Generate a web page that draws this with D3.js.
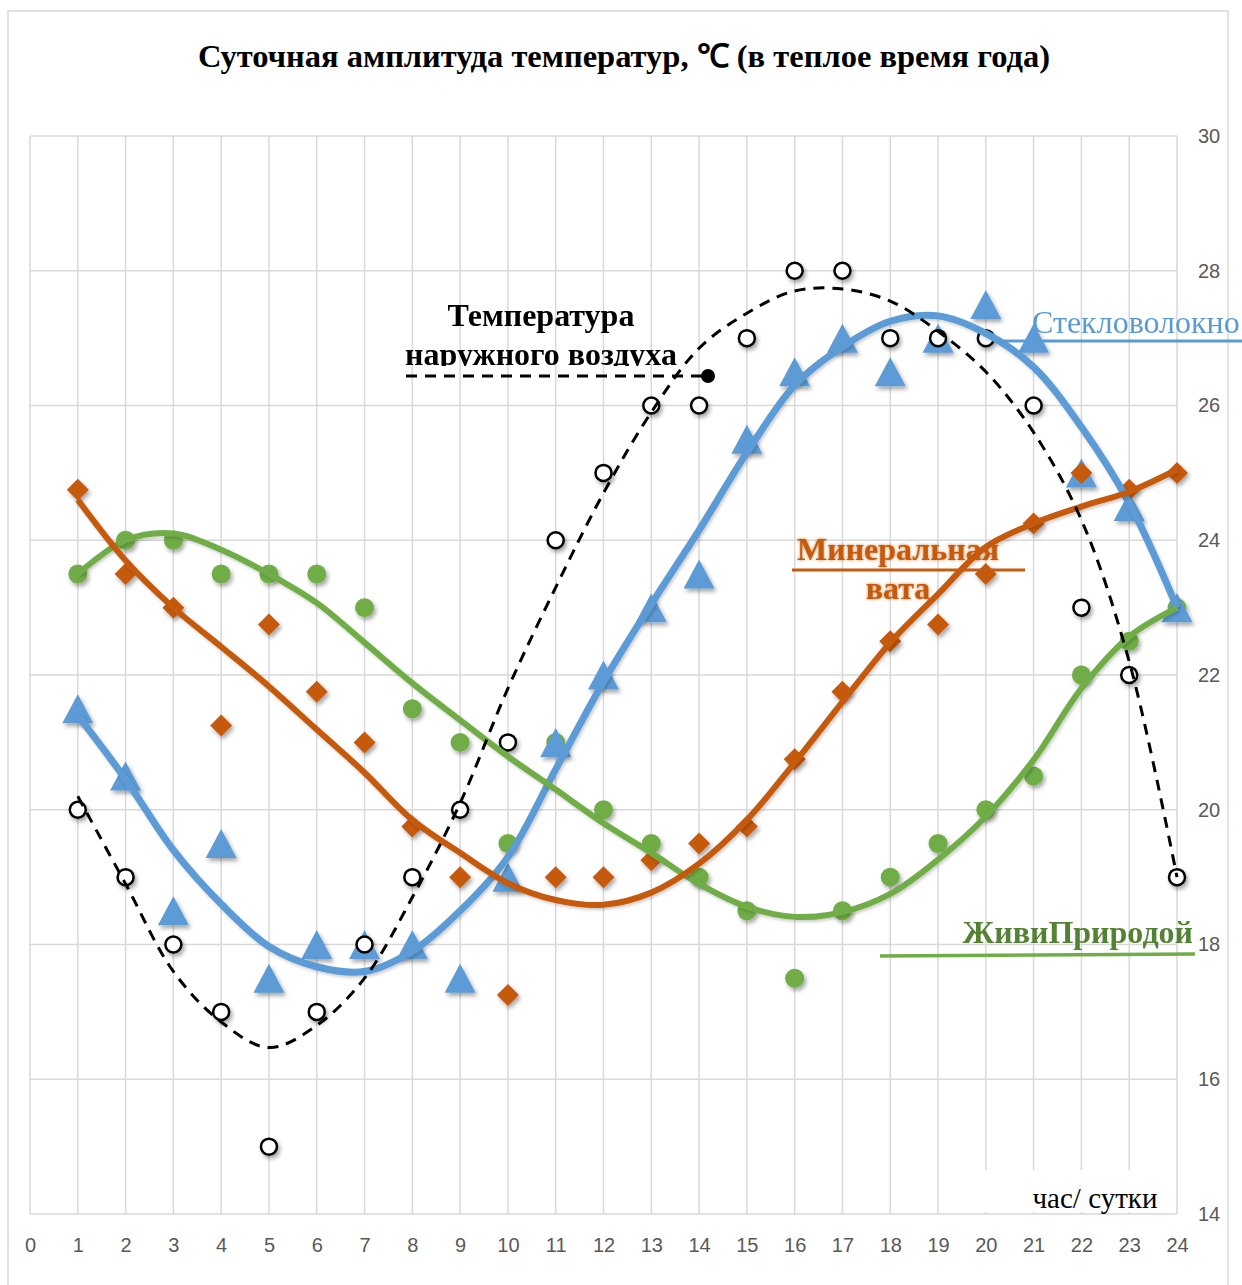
<!DOCTYPE html>
<html>
<head>
<meta charset="utf-8">
<script src="https://cdn.jsdelivr.net/npm/d3@7"></script>
<style>
  body { margin: 0; background: #fff; }
  svg { display: block; }
</style>
</head>
<body>
<svg id="chart"></svg>
<script>
// hours of the day
var hours = [1, 2, 3, 4, 5, 6, 7, 8, 9, 10, 11, 12, 13, 14, 15, 16, 17, 18, 19, 20, 21, 22, 23, 24]
var xTicks = [0, 1, 2, 3, 4, 5, 6, 7, 8, 9, 10, 11, 12, 13, 14, 15, 16, 17, 18, 19, 20, 21, 22, 23, 24]
var yTicks = [14, 16, 18, 20, 22, 24, 26, 28, 30]

// measured points
var outsideTemp = [20, 19, 18, 17, 15, 17, 18, 19, 20, 21, 24, 25, 26, 26, 27, 28, 28, 27, 27, 27, 26, 23, 22, 19]
var fiberglass = [21.5, 20.5, 18.5, 19.5, 17.5, 18, 18, 18, 17.5, 19, 21, 22, 23, 23.5, 25.5, 26.5, 27, 26.5, 27, 27.5, 27, 25, 24.5, 23]
var mineralWool = [24.75, 23.5, 23, 21.25, 22.75, 21.75, 21, 19.75, 19, 17.25, 19, 19, 19.25, 19.5, 19.75, 20.75, 21.75, 22.5, 22.75, 23.5, 24.25, 25, 24.75, 25]
var zhivi = [23.5, 24, 24, 23.5, 23.5, 23.5, 23, 21.5, 21, 19.5, 21, 20, 19.5, 19, 18.5, 17.5, 18.5, 19, 19.5, 20, 20.5, 22, 22.5, 23]

// trend lines
var outsideTrend = [20.2, 18.9, 17.6, 16.85, 16.47, 16.8, 17.5, 18.7, 20.1, 21.8, 23.3, 24.7, 25.9, 26.85, 27.37, 27.7, 27.73, 27.55, 27.1, 26.5, 25.6, 24.3, 22.2, 19.0]
var fiberTrend = [21.4, 20.45, 19.4, 18.6, 17.97, 17.67, 17.6, 17.9, 18.5, 19.3, 20.6, 21.9, 23.05, 24.15, 25.3, 26.3, 26.87, 27.25, 27.33, 27.07, 26.57, 25.68, 24.55, 23.0]
var mineralTrend = [24.6, 23.7, 23.0, 22.42, 21.83, 21.19, 20.55, 19.85, 19.36, 18.91, 18.66, 18.59, 18.77, 19.2, 19.85, 20.7, 21.6, 22.48, 23.2, 23.9, 24.25, 24.5, 24.72, 25.05]
var zhiviTrend = [23.5, 24.0, 24.1, 23.86, 23.5, 23.07, 22.48, 21.88, 21.33, 20.79, 20.3, 19.8, 19.36, 18.9, 18.56, 18.41, 18.48, 18.75, 19.26, 19.9, 20.74, 21.8, 22.57, 23.0]

var dimensions = {
    width: 1242,
    height: 1285,
    margin: { top: 136, bottom: 71, left: 30, right: 65 }
}

var blue = "#5B9BD5", orange = "#C55A11", green = "#70AD47"
var serif = "'Liberation Serif', 'Times New Roman', serif"

var svg = d3.select("#chart")
    .attr("width", dimensions.width)
    .attr("height", dimensions.height)

var defs = svg.append("defs")
var sh = defs.append("filter").attr("id", "shadow")
    .attr("x", "-50%").attr("y", "-50%").attr("width", "200%").attr("height", "200%")
sh.append("feDropShadow").attr("dx", 2).attr("dy", 3).attr("stdDeviation", 2)
    .attr("flood-color", "#000").attr("flood-opacity", 0.35)
var shl = defs.append("filter").attr("id", "lineShadow")
    .attr("x", "-10%").attr("y", "-10%").attr("width", "120%").attr("height", "120%")
shl.append("feDropShadow").attr("dx", 1.5).attr("dy", 2).attr("stdDeviation", 1.5)
    .attr("flood-color", "#000").attr("flood-opacity", 0.2)
var glow = defs.append("filter").attr("id", "glow")
    .attr("x", "-10%").attr("y", "-30%").attr("width", "120%").attr("height", "160%")
glow.append("feDropShadow").attr("dx", 0).attr("dy", 0).attr("stdDeviation", 1.5)
    .attr("flood-color", orange).attr("flood-opacity", 0.8)
defs.append("clipPath").attr("id", "cutText")
    .append("rect").attr("x", 380).attr("y", 280).attr("width", 360).attr("height", 86)

// outer frame
svg.append("rect")
    .attr("x", 8).attr("y", 11)
    .attr("width", 1220).attr("height", 1300)
    .attr("fill", "none").attr("stroke", "#d9d9d9").attr("stroke-width", 1.5)

var xScale = d3.scaleLinear()
    .domain([0, 24])
    .range([dimensions.margin.left, dimensions.width - dimensions.margin.right])

var yScale = d3.scaleLinear()
    .domain([14, 30])
    .range([dimensions.height - dimensions.margin.bottom, dimensions.margin.top])

// grid
var grid = svg.append("g").attr("stroke", "#d9d9d9").attr("stroke-width", 1.5)
grid.selectAll(".vg").data(xTicks).enter().append("line")
    .attr("x1", d => xScale(d)).attr("x2", d => xScale(d))
    .attr("y1", yScale(30)).attr("y2", yScale(14))
grid.selectAll(".hg").data(yTicks).enter().append("line")
    .attr("x1", xScale(0)).attr("x2", xScale(24))
    .attr("y1", d => yScale(d)).attr("y2", d => yScale(d))

// axes
var xAxis = svg.append("g")
    .attr("transform", "translate(0," + yScale(14) + ")")
    .call(d3.axisBottom(xScale).tickValues(xTicks).tickSize(0).tickPadding(24).tickFormat(d3.format("d")))
xAxis.select(".domain").remove()
xAxis.selectAll("text")
    .attr("fill", "#595959")
    .style("font-family", "'Liberation Sans', Arial, sans-serif")
    .style("font-size", "20px")

var yAxis = svg.append("g")
    .attr("transform", "translate(" + xScale(24) + ",0)")
    .call(d3.axisRight(yScale).tickValues(yTicks).tickSize(0).tickPadding(21))
yAxis.select(".domain").remove()
yAxis.selectAll("text")
    .attr("fill", "#595959")
    .style("font-family", "'Liberation Sans', Arial, sans-serif")
    .style("font-size", "20px")

// title
svg.append("text")
    .attr("x", 624).attr("y", 67)
    .attr("text-anchor", "middle")
    .style("font-family", serif)
    .style("font-weight", "bold")
    .style("font-size", "32.5px")
    .text("Суточная амплитуда температур, ℃ (в теплое время года)")

// axis caption with white box
svg.append("rect")
    .attr("x", 985).attr("y", 1170).attr("width", 187).attr("height", 42)
    .attr("fill", "#fff")
svg.append("text")
    .attr("x", 1095).attr("y", 1208)
    .attr("text-anchor", "middle")
    .style("font-family", serif)
    .style("font-size", "29px")
    .text("час/ сутки")

// markers
function triangle(w, h) {
    return "M0," + (-h / 2) + "L" + (w / 2) + "," + (h / 2) + "L" + (-w / 2) + "," + (h / 2) + "Z"
}
function diamond(s) {
    return "M0," + (-s / 2) + "L" + (s / 2) + ",0L0," + (s / 2) + "L" + (-s / 2) + ",0Z"
}

var marks = svg.append("g").attr("filter", "url(#shadow)")

marks.selectAll(".green").data(hours).enter().append("circle")
    .attr("cx", (d, i) => xScale(d))
    .attr("cy", (d, i) => yScale(zhivi[i]))
    .attr("r", 9.5)
    .attr("fill", green)

marks.selectAll(".blue").data(hours).enter().append("path")
    .attr("transform", (d, i) => "translate(" + xScale(d) + "," + yScale(fiberglass[i]) + ")")
    .attr("d", triangle(31, 29))
    .attr("fill", blue)

marks.selectAll(".orange").data(hours).enter().append("path")
    .attr("transform", (d, i) => "translate(" + xScale(d) + "," + yScale(mineralWool[i]) + ")")
    .attr("d", diamond(22))
    .attr("fill", orange)

marks.selectAll(".outside").data(hours).enter().append("circle")
    .attr("cx", (d, i) => xScale(d))
    .attr("cy", (d, i) => yScale(outsideTemp[i]))
    .attr("r", 8)
    .attr("fill", "#fff")
    .attr("stroke", "#000")
    .attr("stroke-width", 2.5)

// trend lines
function trendLine(values) {
    return d3.line()
        .x((d, i) => xScale(hours[i]))
        .y(d => yScale(d))
        .curve(d3.curveCatmullRom.alpha(0.5))(values)
}

var trends = svg.append("g").attr("fill", "none").attr("stroke-linecap", "butt")
trends.append("path").attr("d", trendLine(fiberTrend))
    .attr("stroke", blue).attr("stroke-width", 7).attr("filter", "url(#lineShadow)")
trends.append("path").attr("d", trendLine(zhiviTrend))
    .attr("stroke", green).attr("stroke-width", 6).attr("filter", "url(#lineShadow)")
trends.append("path").attr("d", trendLine(mineralTrend))
    .attr("stroke", orange).attr("stroke-width", 6).attr("filter", "url(#lineShadow)")
trends.append("path").attr("d", trendLine(outsideTrend))
    .attr("stroke", "#000").attr("stroke-width", 3).attr("stroke-dasharray", "11,8")

// annotation: outside air
var ann = svg.append("g")
    .style("font-family", serif)
    .style("font-weight", "bold")
    .style("font-size", "32px")
    .attr("text-anchor", "middle")
ann.append("text").attr("x", 541).attr("y", 326).text("Температура")
ann.append("text").attr("x", 541).attr("y", 365).attr("clip-path", "url(#cutText)").text("наружного воздуха")
svg.append("line")
    .attr("x1", 406).attr("x2", 708).attr("y1", 376).attr("y2", 376)
    .attr("stroke", "#000").attr("stroke-width", 3).attr("stroke-dasharray", "11,8")
svg.append("circle").attr("cx", 708).attr("cy", 376).attr("r", 7).attr("fill", "#000")

// annotation: fiberglass
svg.append("text")
    .attr("x", 1032).attr("y", 333)
    .attr("fill", blue)
    .style("font-family", serif)
    .style("font-size", "32px")
    .text("Стекловолокно")
svg.append("line")
    .attr("x1", 1000).attr("x2", 1242).attr("y1", 341).attr("y2", 341)
    .attr("stroke", blue).attr("stroke-width", 3)

// annotation: mineral wool
var mw = svg.append("g")
    .attr("fill", orange)
    .attr("filter", "url(#glow)")
    .style("font-family", serif)
    .style("font-weight", "bold")
    .style("font-size", "32px")
    .attr("text-anchor", "middle")
mw.append("text").attr("x", 898).attr("y", 560).text("Минеральная")
mw.append("text").attr("x", 898).attr("y", 599).text("вата")
svg.append("line")
    .attr("x1", 792).attr("x2", 1025).attr("y1", 570).attr("y2", 570)
    .attr("stroke", orange).attr("stroke-width", 3)

// annotation: ZhiviPrirodoy
svg.append("text")
    .attr("x", 1193).attr("y", 943)
    .attr("text-anchor", "end")
    .attr("fill", "#548235")
    .style("font-family", serif)
    .style("font-weight", "bold")
    .style("font-size", "32px")
    .text("ЖивиПриродой")
svg.append("line")
    .attr("x1", 880).attr("x2", 1195).attr("y1", 956).attr("y2", 954)
    .attr("stroke", green).attr("stroke-width", 3.5)
</script>
</body>
</html>
